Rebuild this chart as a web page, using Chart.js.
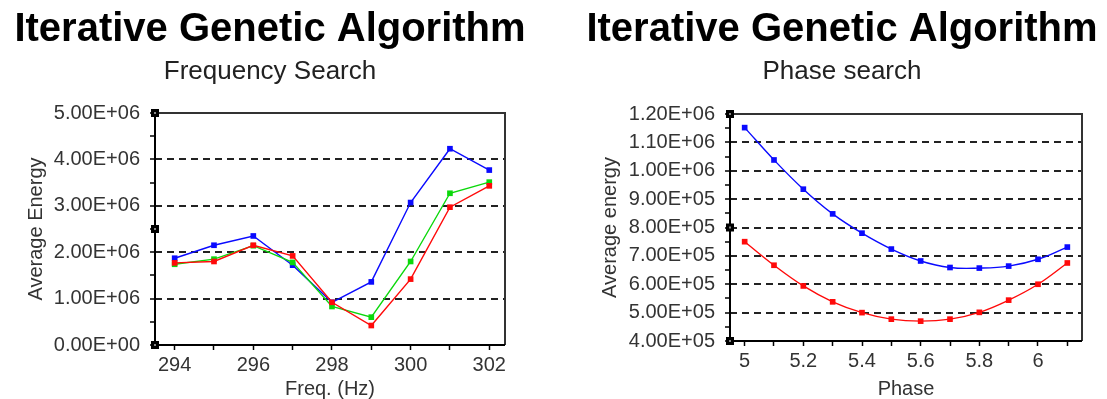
<!DOCTYPE html>
<html>
<head>
<meta charset="utf-8">
<script src="https://cdn.jsdelivr.net/npm/chart.js@4/dist/chart.umd.min.js"></script>
<style>
  body { margin: 0; background: #fff; width: 1107px; height: 399px; overflow: hidden; position: relative; }
  .panel { position: absolute; top: 0; }
  #panel-frecuencia { left: 0; }
  #panel-fase { left: 577px; }
</style>
</head>
<body>
<div class="panel" id="panel-frecuencia"><canvas id="grafica1" width="540" height="399"></canvas></div>
<div class="panel" id="panel-fase"><canvas id="grafica2" width="530" height="399"></canvas></div>

<script>
// Datos
const frecuencias = [294, 295, 296, 297, 298, 299, 300, 301, 302];
const energiaAzul = [1.87e6, 2.15e6, 2.35e6, 1.72e6, 0.92e6, 1.36e6, 3.07e6, 4.23e6, 3.77e6];
const energiaVerde = [1.74e6, 1.85e6, 2.14e6, 1.78e6, 0.83e6, 0.60e6, 1.80e6, 3.27e6, 3.51e6];
const energiaRoja = [1.77e6, 1.80e6, 2.15e6, 1.92e6, 0.92e6, 0.42e6, 1.42e6, 2.97e6, 3.43e6];

const fases = [5.0, 5.1, 5.2, 5.3, 5.4, 5.5, 5.6, 5.7, 5.8, 5.9, 6.0, 6.1];
const faseAzul = [1.152e6, 1.038e6, 9.35e5, 8.48e5, 7.80e5, 7.24e5, 6.82e5, 6.59e5, 6.57e5, 6.64e5, 6.88e5, 7.31e5];
const faseRoja = [7.50e5, 6.67e5, 5.94e5, 5.38e5, 5.00e5, 4.77e5, 4.70e5, 4.77e5, 5.01e5, 5.44e5, 6.00e5, 6.75e5];

// Marcas de los ejes
const marcasEnergia = [0, 5e5, 1e6, 1.5e6, 2e6, 2.5e6, 3e6, 3.5e6, 4e6, 4.5e6, 5e6];
const etiquetasFrecuencia = [294, 296, 298, 300, 302];
const marcasEnergiaFase = [4e5, 4.5e5, 5e5, 5.5e5, 6e5, 6.5e5, 7e5, 7.5e5, 8e5, 8.5e5, 9e5, 9.5e5, 1e6, 1.05e6, 1.1e6, 1.15e6, 1.2e6];
const etiquetasFase = [5, 5.2, 5.4, 5.6, 5.8, 6];

const AZUL = '#0a0aff';
const VERDE = '#0bd80b';
const ROJO = '#ff0a0a';

Chart.defaults.font.family = "'Liberation Sans', Arial, sans-serif";
Chart.defaults.color = '#333';

function formatoCientifico(valor) {
    const [mant, exp] = valor.toExponential(2).split('e');
    return mant + 'E' + exp[0] + exp.slice(1).padStart(2, '0');
}

function puntos(xs, ys) {
    return xs.map((x, i) => ({ x: x, y: ys[i] }));
}

function serie(xs, ys, color, tension) {
    return {
        data: puntos(xs, ys),
        borderColor: color,
        backgroundColor: color,
        borderWidth: 1.4,
        pointStyle: 'rect',
        pointRadius: 4,
        pointBorderWidth: 0,
        tension: tension
    };
}

// Marco del área de la gráfica y los cuadritos del eje
const marcoGrafica = {
    id: 'marcoGrafica',
    afterDatasetsDraw(chart) {
        const { ctx, chartArea } = chart;
        const { left, top, right, bottom } = chartArea;
        ctx.save();
        ctx.lineWidth = 2;
        ctx.strokeStyle = '#333';
        ctx.beginPath();
        ctx.moveTo(left, top);
        ctx.lineTo(right, top);
        ctx.lineTo(right, bottom);
        ctx.stroke();
        ctx.strokeStyle = '#000';
        ctx.beginPath();
        ctx.moveTo(left, top);
        ctx.lineTo(left, bottom);
        ctx.lineTo(right, bottom);
        ctx.stroke();
        [top, (top + bottom) / 2, bottom].forEach(y => {
            ctx.fillStyle = '#000';
            ctx.fillRect(left - 4, y - 4, 8, 8);
            ctx.fillStyle = '#888';
            ctx.fillRect(left - 1, y - 1, 2, 2);
        });
        ctx.restore();
    }
};

function opcionesGrafica(cfg) {
    return {
        responsive: false,
        animation: false,
        layout: { padding: 0 },
        plugins: {
            legend: { display: false },
            tooltip: { enabled: false },
            title: {
                display: true,
                text: 'Iterative Genetic Algorithm',
                color: '#000',
                font: { size: 40, weight: 'bold', lineHeight: 1 },
                padding: { top: 10, bottom: 0 }
            },
            subtitle: {
                display: true,
                text: cfg.subtitulo,
                color: '#222',
                font: { size: 26, lineHeight: 1 },
                padding: { top: 9, bottom: cfg.espacioSubtitulo }
            }
        },
        scales: {
            x: {
                type: 'linear',
                min: cfg.xMin,
                max: cfg.xMax,
                afterBuildTicks: scale => { scale.ticks = cfg.marcasX.map(v => ({ value: v })); },
                afterFit: scale => { scale.height = cfg.altoX; },
                ticks: {
                    autoSkip: false,
                    maxRotation: 0,
                    padding: 3,
                    font: { size: 20 },
                    callback: cfg.etiquetaX
                },
                grid: { drawOnChartArea: false, drawTicks: true, tickLength: 5, tickColor: '#000', tickWidth: 1.5 },
                border: { display: false },
                title: {
                    display: true,
                    text: cfg.tituloX,
                    color: '#333',
                    font: { size: 20, lineHeight: 1 },
                    padding: { top: cfg.margenTituloX, bottom: 0 }
                }
            },
            y: {
                type: 'linear',
                min: cfg.yMin,
                max: cfg.yMax,
                afterBuildTicks: scale => { scale.ticks = cfg.marcasY.map(v => ({ value: v })); },
                afterFit: scale => { scale.width = cfg.anchoY; },
                ticks: {
                    autoSkip: false,
                    padding: 10,
                    font: { size: 20 },
                    callback: cfg.etiquetaY
                },
                grid: {
                    lineWidth: 2,
                    tickLength: 5,
                    tickWidth: 1.5,
                    tickColor: '#000',
                    color: ctx => {
                        const v = ctx.tick ? ctx.tick.value : null;
                        if (v === null || v <= cfg.yMin || v >= cfg.yMax) return 'rgba(0,0,0,0)';
                        return cfg.esLineaY(v) ? '#222' : 'rgba(0,0,0,0)';
                    }
                },
                border: { display: false, dash: [7, 5] },
                title: {
                    display: true,
                    text: cfg.tituloY,
                    color: '#333',
                    font: { size: 20, lineHeight: 1 },
                    padding: { top: cfg.margenTituloY, bottom: 0 }
                }
            },
            // eje fantasma para dejar el hueco de la derecha
            y2: {
                type: 'linear',
                position: 'right',
                afterFit: scale => { scale.width = cfg.huecoDerecha; },
                ticks: { display: false },
                grid: { display: false },
                border: { display: false }
            }
        }
    };
}

// GRÁFICA 1: búsqueda de frecuencia
new Chart(document.getElementById('grafica1').getContext('2d'), {
    type: 'line',
    data: {
        datasets: [
            serie(frecuencias, energiaRoja, ROJO, 0),
            serie(frecuencias, energiaVerde, VERDE, 0),
            serie(frecuencias, energiaAzul, AZUL, 0)
        ]
    },
    options: opcionesGrafica({
        subtitulo: 'Frequency Search',
        espacioSubtitulo: 28,
        xMin: 293.5, xMax: 302.4,
        marcasX: frecuencias,
        etiquetaX: v => etiquetasFrecuencia.includes(v) ? String(v) : '',
        altoX: 54,
        tituloX: 'Freq. (Hz)',
        margenTituloX: 0,
        yMin: 0, yMax: 5e6,
        marcasY: marcasEnergia,
        etiquetaY: v => v % 1e6 === 0 ? formatoCientifico(v) : '',
        esLineaY: v => v % 1e6 === 0,
        anchoY: 155,
        tituloY: 'Average Energy',
        margenTituloY: 26,
        huecoDerecha: 35
    }),
    plugins: [marcoGrafica]
});

// GRÁFICA 2: búsqueda de fase
new Chart(document.getElementById('grafica2').getContext('2d'), {
    type: 'line',
    data: {
        datasets: [
            serie(fases, faseRoja, ROJO, 0.4),
            serie(fases, faseAzul, AZUL, 0.4)
        ]
    },
    options: opcionesGrafica({
        subtitulo: 'Phase search',
        espacioSubtitulo: 29,
        xMin: 4.95, xMax: 6.15,
        marcasX: fases,
        etiquetaX: v => etiquetasFase.some(e => Math.abs(e - v) < 1e-6) ? String(+v.toFixed(1)) : '',
        altoX: 58,
        tituloX: 'Phase',
        margenTituloX: 5,
        yMin: 4e5, yMax: 1.2e6,
        marcasY: marcasEnergiaFase,
        etiquetaY: v => v % 1e5 === 0 ? formatoCientifico(v) : '',
        esLineaY: v => v % 1e5 === 0,
        anchoY: 153,
        tituloY: 'Average energy',
        margenTituloY: 23,
        huecoDerecha: 25
    }),
    plugins: [marcoGrafica]
});
</script>
</body>
</html>
